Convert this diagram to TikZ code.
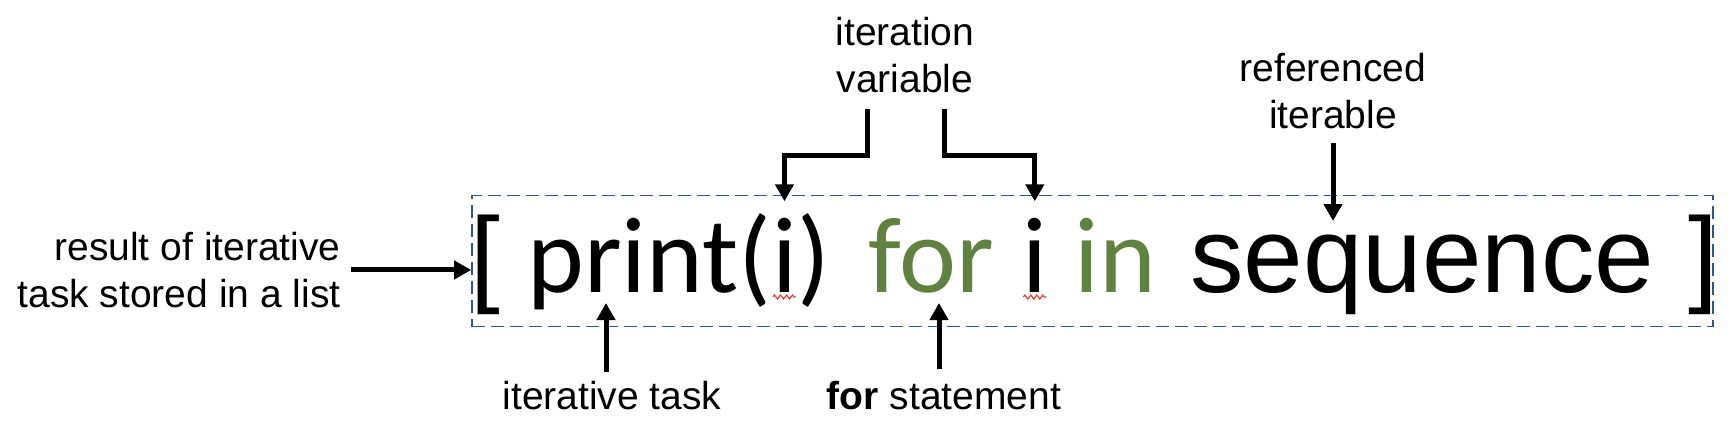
\documentclass[tikz,border=0pt]{standalone}
\usepackage{fontspec}
\setmainfont{Liberation Sans}
\newfontfamily\calfont{Carlito}
\usetikzlibrary{arrows.meta,decorations.pathmorphing}
\definecolor{kwgreen}{RGB}{96,130,64}
\definecolor{boxblue}{RGB}{47,85,151}
\definecolor{squig}{RGB}{232,65,43}
\begin{document}
\begin{tikzpicture}[x=0.5pt,y=-0.5pt,
  lbl/.style={inner sep=0pt, font=\fontsize{19.5}{23.25}\selectfont},
  code/.style={inner sep=0pt, anchor=base west, font=\calfont\fontsize{54}{60}\selectfont},
  codea/.style={inner sep=0pt, anchor=base west, font=\fontsize{53.5}{60}\selectfont},
  arr/.style={line width=2.5pt, -{Triangle[length=8.5pt,width=9pt]}},
  squiggle/.style={draw=squig, line width=0.6pt, decorate, decoration={zigzag, segment length=3pt, amplitude=1pt}}]
\useasboundingbox (0,0) rectangle (1732,424);
% dashed frame
\node[draw=boxblue, line width=0.85pt, dash pattern=on 6.5pt off 3pt, minimum width=620.5pt, minimum height=65.5pt, inner sep=0pt] (box) at (1092.5,261) {};
% code line
\node[codea] (lb) at (470,292) {[};
\node[code] (pr) at (527,292) {print(};
\node[code] (i1) at (pr.base east) {i};
\node[code] (rp) at (i1.base east) {)};
\node[code, text=kwgreen] (for) at (868,292) {for};
\node[code] (i2) at (1022,292) {i};
\node[code, text=kwgreen] (in) at (1074,292) {in};
\node[codea] (seq) at (1190,292) {sequence};
\node[codea] (rb) at (1688,292) {]};
% labels
\node[lbl, align=right, anchor=north east] (res) at (341,232) {result of iterative\\task stored in a list};
\node[lbl, align=center, anchor=north] (ivar) at (905,17) {iteration\\variable};
\node[lbl, align=center, anchor=north] (refit) at (1333,53) {referenced\\iterable};
\node[lbl, anchor=base] (itask) at (612,409) {iterative task};
\node[lbl, anchor=base] (fst) at (944,409) {\textbf{for} statement};
% arrows
\draw[arr] ([xshift=5pt]res.east) -- (res.east -| box.west);
\draw[arr] ([xshift=-18.75pt,yshift=-8pt]ivar.south) -- ++(0,47) -| ([yshift=8pt]i1.north);
\draw[arr] ([xshift=19.5pt,yshift=-8pt]ivar.south) -- ++(0,47) -| ([yshift=8pt]i2.north);
\draw[arr] ([yshift=-7pt]refit.south) -- ([yshift=6.5pt]refit.south |- seq.north);
\draw[arr] ([xshift=-3pt,yshift=4pt]itask.north) -- ([xshift=-3pt,yshift=-5.5pt]itask.north |- pr.base);
\draw[arr] ([xshift=-2.5pt,yshift=5.5pt]fst.north) -- ([xshift=-2.5pt,yshift=-5.5pt]fst.north |- for.base);
% spell-check squiggles
\draw[squiggle] ([xshift=-5.75pt,yshift=-2.5pt]i1.base) -- ([xshift=5.75pt,yshift=-2.5pt]i1.base);
\draw[squiggle] ([xshift=-5.75pt,yshift=-2.5pt]i2.base) -- ([xshift=5.75pt,yshift=-2.5pt]i2.base);
\end{tikzpicture}
\end{document}
